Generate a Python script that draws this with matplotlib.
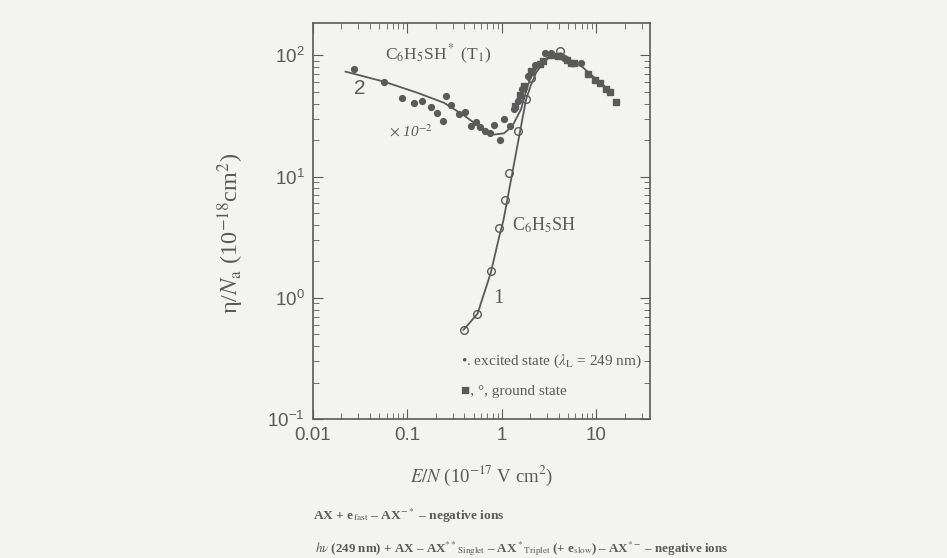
import numpy as np
import matplotlib
matplotlib.use("Agg")
import matplotlib.pyplot as plt

plt.rcParams['mathtext.fontset'] = 'stix'
plt.rcParams['font.family'] = ['Liberation Serif', 'DejaVu Sans']

ink = '#5a5a5a'
bg = '#f3f3f1'

# excited state (filled circles), values x1e-2
exc_x = [0.0273, 0.0569, 0.0885, 0.117, 0.143, 0.179, 0.207, 0.236, 0.256, 0.287,
         0.349, 0.404, 0.468, 0.528, 0.588, 0.659, 0.739, 0.828, 0.96, 1.04, 1.23,
         1.35, 1.49, 1.62, 1.87, 2.24, 2.88, 3.33, 4.55, 6.9]
exc_y = [77.6, 60, 44.4, 40.1, 42.3, 37.7, 33.6, 28.8, 46.1, 38.6,
         32.7, 34, 26.1, 28.1, 25.8, 23.6, 22.7, 26.4, 20, 30, 26.1,
         36.2, 41.7, 52.4, 67.5, 82.7, 104, 104, 95.6, 86]

# ground state (filled squares)
sq_x = [1.38, 1.55, 1.71, 2.03, 2.52, 2.74, 3.3, 3.95, 4.94, 5.35, 5.8,
        8.14, 9.7, 11.0, 12.5, 13.9, 16.3]
sq_y = [38, 47, 55.7, 74.2, 84, 89.7, 100, 98.7, 91.5, 87, 86,
        70, 62.5, 59.5, 53, 49.7, 41.1]

# ground state (open circles)
gnd_x = [0.392, 0.551, 0.764, 0.936, 1.076, 1.2, 1.47, 1.8, 2.03, 4.16]
gnd_y = [0.545, 0.738, 1.66, 3.79, 6.37, 10.7, 23.9, 43.3, 65.4, 108]

# fit curve 2 (excited state)
fit2_x = [0.0221, 0.0569, 0.127, 0.243, 0.397, 0.598, 0.83, 1.05, 1.29, 1.59,
          1.87, 2.03, 2.5, 3.03, 3.7, 4.98, 6.9, 9.5, 13.3]
fit2_y = [73.3, 60.5, 49.1, 40.6, 31.9, 25.2, 22.2, 22.7, 26.1, 35.8,
          55.7, 66, 85, 95.6, 100, 92.7, 81.6, 65.4, 52.4]

# fit curve 1 (ground state)
fit1_x = [0.392, 0.551, 0.764, 0.936, 1.04, 1.8, 2.03, 2.3, 2.83, 3.45,
          4.2, 4.98]
fit1_y = [0.545, 0.738, 1.62, 3.2, 4.4, 43.3, 57, 72, 90, 100,
          104, 96]

fig = plt.figure(figsize=(9.47, 5.58), dpi=100, facecolor=bg)
ax = fig.add_axes([0.3305, 0.249, 0.356, 0.71])
ax.set_facecolor(bg)

ax.plot(fit2_x, fit2_y, color=ink, lw=1.3)
ax.plot(fit1_x, fit1_y, color=ink, lw=1.3)
ax.plot(sq_x, sq_y, 's', color=ink, ms=4.5, mec=ink)
ax.plot(exc_x, exc_y, 'o', color=ink, ms=4.2)
ax.plot(gnd_x, gnd_y, 'o', mfc='none', mec=ink, ms=5.5, mew=1.0)

ax.set_xscale('log')
ax.set_yscale('log')
ax.set_xlim(0.01, 37)
ax.set_ylim(0.1, 185)
ax.set_xticks([0.01, 0.1, 1, 10])
ax.set_xticklabels(['0.01', '0.1', '1', '10'])

for s in ax.spines.values():
    s.set_color(ink)
    s.set_linewidth(1.2)
ax.tick_params(which='both', direction='in', top=True, right=True, colors=ink)
ax.tick_params(which='major', length=7, labelsize=13.5, pad=6)
ax.tick_params(which='minor', length=4)
for lab in ax.get_xticklabels() + ax.get_yticklabels():
    lab.set_family('Liberation Sans')

ax.set_xlabel(r'$E/N$ (10$^{-17}$ V cm$^2$)', fontsize=13.5, color=ink, labelpad=14)
ax.set_ylabel(r'η/$N_{\rm a}$ (10$^{-18}$cm$^2$)', fontsize=17.5, color=ink)
ax.yaxis.set_label_coords(-0.198, 0.468)

ax.text(0.37, 0.92, r'C$_6$H$_5$SH$^*$ (T$_1$)', transform=ax.transAxes,
        fontsize=12.5, color=ink, ha='center', va='center')
ax.text(0.14, 0.835, '2', transform=ax.transAxes, fontsize=15, color=ink,
        ha='center', va='center', family='Liberation Sans')
ax.text(0.29, 0.727, r'$\times$ 10$^{-2}$', transform=ax.transAxes,
        fontsize=11, color=ink, ha='center', va='center', style='italic')
ax.text(0.59, 0.49, r'C$_6$H$_5$SH', transform=ax.transAxes,
        fontsize=13, color=ink, ha='left', va='center')
ax.text(0.55, 0.305, '1', transform=ax.transAxes, fontsize=15, color=ink,
        ha='center', va='center')
ax.text(0.44, 0.145, r'•. excited state ($\lambda_{\rm L}$ = 249 nm)',
        transform=ax.transAxes, fontsize=11, color=ink, ha='left', va='center',
        family=['Liberation Serif', 'DejaVu Sans'])
ax.text(0.44, 0.07, '■, °, ground state', transform=ax.transAxes,
        fontsize=11, color=ink, ha='left', va='center',
        family=['Liberation Serif', 'DejaVu Sans'])

fig.text(0.331, 1 - 516 / 558, r'AX + e$_{\rm fast}$ – AX$^{-*}$ – negative ions',
         fontsize=9.7, weight='bold', color=ink, ha='left', va='center')
fig.text(0.333, 1 - 549 / 558,
         r'$h\nu$ (249 nm) + AX – AX$^{**}$$_{\rm Singlet}$ – AX$^*$$_{\rm Triplet}$'
         r' (+ e$_{\rm slow}$) – AX$^{*-}$ – negative ions',
         fontsize=9.4, weight='bold', color=ink, ha='left', va='center')

fig.savefig('out.png', dpi=100, facecolor=bg)
